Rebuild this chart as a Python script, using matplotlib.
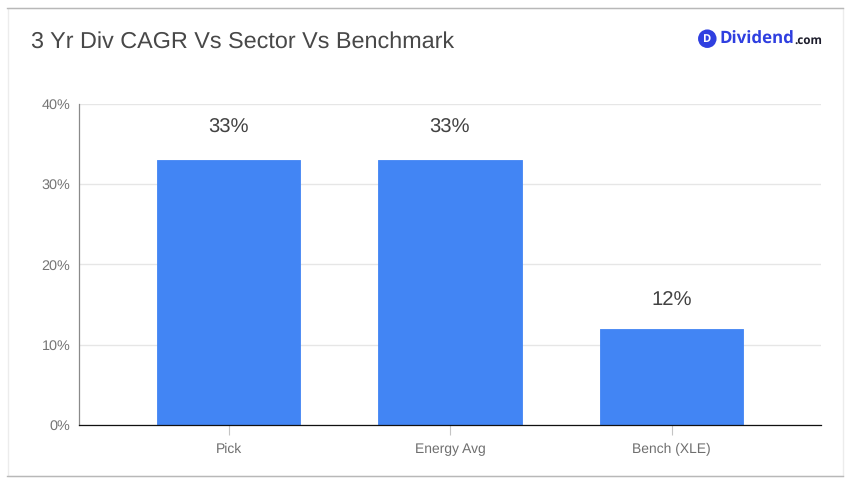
import matplotlib
matplotlib.use("Agg")
import matplotlib.pyplot as plt
from matplotlib.patches import Rectangle, Ellipse

categories = ["Pick", "Energy Avg", "Bench (XLE)"]
values = [33, 33, 12]
value_labels = ["33%", "33%", "12%"]
y_ticks = [0, 10, 20, 30, 40]
y_tick_labels = ["0%", "10%", "20%", "30%", "40%"]

W, H = 851, 483
plt.rcParams["font.family"] = ["Liberation Sans", "DejaVu Sans"]
plt.rcParams["text.hinting"] = "no_hinting"
fig = plt.figure(figsize=(W / 100, H / 100), dpi=100, facecolor="white")

# Card outline: light sides, darker top and bottom edges
bg = fig.add_axes([0, 0, 1, 1], zorder=0)
bg.set_xlim(0, W)
bg.set_ylim(H, 0)
bg.axis("off")
bg.add_patch(Rectangle((7.5, 7.5), 835, 468.5, fc="white", ec="#ececec", lw=1))
bg.plot([7, 843], [7.5, 7.5], color="#b8b8b8", lw=1)
bg.plot([7, 843], [476, 476], color="#b8b8b8", lw=1)

left, right, top, bottom = 79, 821, 104, 425
ax = fig.add_axes([left / W, 1 - bottom / H, (right - left) / W, (bottom - top) / H], zorder=1)
ax.set_facecolor("none")

step = 221.5
ax.set_xlim(-149.5 / step, 2 + 149.5 / step)
ax.set_ylim(0, 40)
bars = ax.bar(range(len(categories)), values, width=0.647, color="#4285f4",
              edgecolor="#4285f4", linewidth=0.6, zorder=2)
for b in bars:
    b.set_joinstyle("round")

# Labels sit a little closer to the short bar than to the tall ones
for i, (v, lab) in enumerate(zip(values, value_labels)):
    gap = 23.2 if v > 20 else 19.8
    ax.annotate(lab, (i, v), xytext=(0, gap), textcoords="offset points", ha="center",
                va="center", fontsize=14.6, color="#424242", zorder=3)

for s in ("top", "right"):
    ax.spines[s].set_visible(False)
ax.spines["left"].set_color("#8a8a8a")
ax.spines["left"].set_linewidth(0.9)
ax.spines["bottom"].set_color("#111111")
ax.spines["bottom"].set_linewidth(0.9)
ax.spines["bottom"].set_zorder(4)

ax.yaxis.grid(True, color="#e6e6e6", lw=1)
ax.set_axisbelow(True)
ax.set_yticks(y_ticks, y_tick_labels)
ax.tick_params(axis="y", length=0, pad=6.2, labelsize=10.4, labelcolor="#757575")
ax.set_xticks(range(len(categories)), categories)
ax.tick_params(axis="x", length=7, width=0.8, color="#c4c4c4", pad=6,
               labelsize=10, labelcolor="#6f6f6f")

fig.text(31 / W, 1 - 39.5 / H, "3 Yr Div CAGR Vs Sector Vs Benchmark", fontsize=16.85,
         color="#484848", ha="left", va="center_baseline")

# Brand mark in the top right corner
bg.add_patch(Ellipse((707.3, 38.7), 18.5, 18.5, fc="#2f3fe0", ec="none"))
bg.text(707.4, 38.9, "D", fontsize=8, fontweight="bold", color="white", ha="center",
        va="center", family="Open Sans")
bg.text(719, 39.5, "Dividend", fontsize=12.2, fontweight="bold", color="#2f3fe0", ha="left",
        va="center", family="Open Sans")
bg.text(794.5, 40.5, ".com", fontsize=8.4, fontweight="bold", color="#1c1c2b", ha="left",
        va="center", family="Open Sans")

fig.savefig("out.png", dpi=100)
